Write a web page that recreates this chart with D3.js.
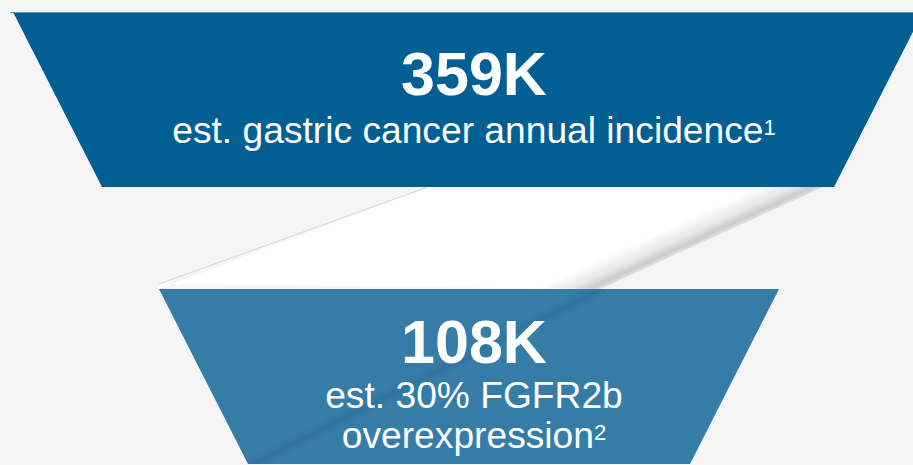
<!DOCTYPE html>
<html><head><meta charset="utf-8">
<script src="https://cdn.jsdelivr.net/npm/d3@7"></script>
<style>html,body{margin:0;padding:0;background:#f5f5f5;overflow:hidden}svg{display:block}</style>
</head><body><div id="chart"></div>
<script>
// ---- data ----
const stages = ["Gastric cancer incidence", "FGFR2b overexpression"];
const values = [359, 108];                 // thousands
const valueLabels = ["359K", "108K"];
const descLines = [["est. gastric cancer annual incidence"], ["est. 30% FGFR2b", "overexpression"]];
const footnotes = ["1", "2"];
const colors = ["#015f93", "#357ca7"];

// ---- layout ----
const W = 913, H = 465;
const svg = d3.select("#chart").append("svg").attr("width", W).attr("height", H);
svg.append("rect").attr("width", W).attr("height", H).attr("fill", "#f5f5f5");

const y = d3.scaleBand().domain(stages).range([12, 464]).paddingInner(0.368).paddingOuter(0);
const hw = d3.scaleLinear().domain([108, 359]).range([310, 455]);
const hwBottom = d3.scaleLinear().domain([108, 359]).range([221, 366]);
const cx = [468, 469];
const textX = 474;

const defs = svg.append("defs");
const blur = defs.append("filter").attr("id", "blur").attr("x", "-20%").attr("y", "-20%").attr("width", "140%").attr("height", "140%");
blur.append("feGaussianBlur").attr("stdDeviation", 2.5);

const line = d3.line();

stages.forEach((s, i) => {
  const y0 = y(s), y1 = y(s) + y.bandwidth();
  const a = hw(values[i]), b = hwBottom(values[i]);
  const pts = [[cx[i] - a, y0], [cx[i] + a, y0], [cx[i] + b, y1], [cx[i] - b, y1]];
  svg.append("path").attr("d", line(pts) + "Z").attr("fill", colors[i]);
  defs.append("clipPath").attr("id", "clip" + i).append("path").attr("d", line(pts) + "Z");
});

const yTopEnd = y(stages[0]) + y.bandwidth();
const yBotStart = y(stages[1]);
const ribbon = [[428, yTopEnd], [823, yTopEnd], [600, yBotStart], [159, yBotStart - 5], [159, yBotStart]];
const grad = defs.append("linearGradient").attr("id", "fold").attr("gradientUnits", "userSpaceOnUse")
  .attr("x1", 711).attr("y1", 237).attr("x2", 711 - 0.416 * 26).attr("y2", 237 - 0.91 * 26);
grad.append("stop").attr("offset", 0).attr("stop-color", "#dcdcdc");
grad.append("stop").attr("offset", 0.12).attr("stop-color", "#cbcbcb");
grad.append("stop").attr("offset", 0.45).attr("stop-color", "#e8e8e8");
grad.append("stop").attr("offset", 1).attr("stop-color", "#ffffff");
svg.append("path").attr("d", line(ribbon) + "Z").attr("fill", "url(#fold)");
svg.append("path").attr("d", line([[428, yTopEnd], [159, yBotStart - 5]])).attr("stroke", "#d4d4d4").attr("stroke-width", 1).attr("fill", "none");

svg.append("g").attr("clip-path", "url(#clip1)")
  .append("path").attr("d", line([[605, yBotStart - 2], [250, 466]]))
  .attr("stroke", "#1f5f88").attr("stroke-opacity", 0.45).attr("stroke-width", 4).attr("fill", "none").attr("filter", "url(#blur)");

svg.append("path").attr("d", line([[10, 12.5], [913, 12.5]])).attr("stroke", "#5f93b8").attr("stroke-width", 1);

const font = "'Liberation Sans', Arial, Helvetica, sans-serif";
const valueBase = [95, 363];
const descBase = [[143], [408, 448]];
stages.forEach((s, i) => {
  svg.append("text").attr("x", textX).attr("y", valueBase[i]).attr("text-anchor", "middle")
    .attr("font-family", font).attr("font-weight", "bold").attr("font-size", 61).attr("fill", "#fff")
    .text(valueLabels[i]);
  descLines[i].forEach((ln, j) => {
    const t = svg.append("text").attr("x", textX).attr("y", descBase[i][j]).attr("text-anchor", "middle")
      .attr("font-family", font).attr("font-size", 37.2).attr("fill", "#fff");
    t.append("tspan").text(ln);
    if (j === descLines[i].length - 1) {
      t.append("tspan").attr("font-size", 22).attr("dy", -8).text(footnotes[i]);
    }
  });
});
</script></body></html>
